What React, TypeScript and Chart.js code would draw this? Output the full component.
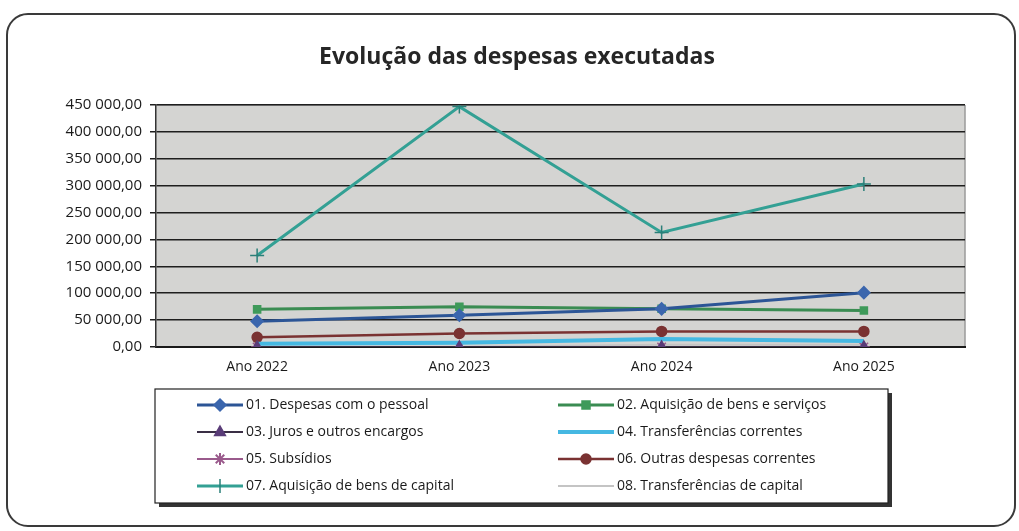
import React, { useEffect, useRef } from "react";
import { Chart, registerables } from "chart.js";

Chart.register(...registerables);

const categories = ["Ano 2022", "Ano 2023", "Ano 2024", "Ano 2025"];
const chartTitle = "Evolução das despesas executadas";
const seriesNames = [
  "01. Despesas com o pessoal",
  "02. Aquisição de bens e serviços",
  "03. Juros e outros encargos",
  "04. Transferências correntes",
  "05. Subsídios",
  "06. Outras despesas correntes",
  "07. Aquisição de bens de capital",
  "08. Transferências de capital",
];
const pessoal = [48000, 59000, 71000, 101000];
const bensServicos = [70000, 75000, 71000, 68000];
const juros = [0, 0, 0, 0];
const transfCorrentes = [6000, 8000, 15000, 11000];
const subsidios = [0, 0, 0, 0];
const outrasCorrentes = [18000, 25000, 29000, 29000];
const bensCapital = [170000, 447000, 213000, 303000];
const transfCapital = [0, 0, 4000, 4000];
const yTicks = [0, 50000, 100000, 150000, 200000, 250000, 300000, 350000, 400000, 450000];

const FONT = "'Open Sans', sans-serif";

function fmt(v: number): string {
  const s = Math.round(v).toString();
  return s.replace(/\B(?=(\d{3})+(?!\d))/g, " ") + ",00";
}

const bgPlugin = {
  id: "plotBg",
  beforeDraw(chart: any) {
    const { ctx, chartArea: a } = chart;
    ctx.save();
    ctx.fillStyle = "#d4d4d2";
    ctx.fillRect(a.left, a.top, a.right - a.left, a.bottom - a.top);
    ctx.strokeStyle = "#9a9a9a";
    ctx.lineWidth = 1.5;
    ctx.beginPath();
    ctx.moveTo(a.right, a.top);
    ctx.lineTo(a.right, a.bottom);
    ctx.moveTo(a.left, a.top);
    ctx.lineTo(a.right, a.top);
    ctx.stroke();
    ctx.fillStyle = "#262626";
    ctx.font = `bold 23px ${FONT}`;
    ctx.textAlign = "center";
    ctx.textBaseline = "middle";
    ctx.fillText(chartTitle, 517, 57);
    ctx.restore();
  },
};

function drawPt(ctx: any, style: string, r: number, x: number, y: number) {
  ctx.beginPath();
  if (style === "rectRot") {
    ctx.moveTo(x, y - r); ctx.lineTo(x + r, y); ctx.lineTo(x, y + r); ctx.lineTo(x - r, y); ctx.closePath();
    ctx.fill(); ctx.stroke();
  } else if (style === "rect") {
    ctx.rect(x - r * 0.8, y - r * 0.8, r * 1.6, r * 1.6); ctx.fill(); ctx.stroke();
  } else if (style === "triangle") {
    ctx.moveTo(x, y - r); ctx.lineTo(x + r * 0.9, y + r * 0.6); ctx.lineTo(x - r * 0.9, y + r * 0.6); ctx.closePath();
    ctx.fill(); ctx.stroke();
  } else if (style === "circle") {
    ctx.arc(x, y, r, 0, Math.PI * 2); ctx.fill(); ctx.stroke();
  } else if (style === "star") {
    for (let k = 0; k < 4; k++) {
      const a = (k * Math.PI) / 4;
      ctx.moveTo(x - Math.cos(a) * r, y - Math.sin(a) * r);
      ctx.lineTo(x + Math.cos(a) * r, y + Math.sin(a) * r);
    }
    ctx.lineWidth = 2; ctx.stroke();
  } else if (style === "cross") {
    ctx.moveTo(x, y - r); ctx.lineTo(x, y + r);
    ctx.lineWidth = 1.5; ctx.stroke();
  }
}

const legendPlugin = {
  id: "boxLegend",
  afterDraw(chart: any) {
    const { ctx } = chart;
    const bx = 155, by = 389, bw = 733, bh = 114;
    ctx.save();
    ctx.fillStyle = "#333";
    ctx.fillRect(bx + 4, by + 4, bw, bh);
    ctx.fillStyle = "#fff";
    ctx.fillRect(bx, by, bw, bh);
    ctx.strokeStyle = "#222";
    ctx.lineWidth = 1.2;
    ctx.strokeRect(bx, by, bw, bh);
    chart.data.datasets.forEach((ds: any, i: number) => {
      const col = i % 2;
      const row = Math.floor(i / 2);
      const x0 = col === 0 ? 197 : 558;
      const len = col === 0 ? 46 : 56;
      const y = 405 + row * 27;
      ctx.strokeStyle = ds.borderColor;
      ctx.lineWidth = ds.borderWidth;
      ctx.beginPath();
      ctx.moveTo(x0, y);
      ctx.lineTo(x0 + len, y);
      ctx.stroke();
      if (ds.pointRadius > 0) {
        ctx.fillStyle = ds.pointBackgroundColor;
        ctx.strokeStyle = ds.pointBorderColor;
        ctx.lineWidth = ds.pointBorderWidth;
        drawPt(ctx, ds.pointStyle, ds.pointRadius, x0 + len / 2, y);
      }
      ctx.fillStyle = "#1a1a1a";
      ctx.font = `14px ${FONT}`;
      ctx.textBaseline = "middle";
      ctx.textAlign = "left";
      ctx.fillText(ds.label, x0 + len + 3, y);
    });
    ctx.restore();
  },
};

function ds(label: string, data: number[], color: string, width: number, style: string | false, radius: number, fill: string) {
  return {
    label,
    data,
    borderColor: color,
    borderWidth: width,
    pointStyle: style || "circle",
    pointRadius: style ? radius : 0,
    pointBackgroundColor: fill,
    pointBorderColor: fill,
    pointBorderWidth: 1.5,
    tension: 0,
  };
}

export default function App() {
  const ref = useRef<HTMLCanvasElement>(null);
  useEffect(() => {
    if (!ref.current) return;
    const chart = new Chart(ref.current, {
      type: "line",
      data: {
        labels: categories,
        datasets: [
          ds(seriesNames[0], pessoal, "#2c5596", 3, "rectRot", 6, "#3b66ad"),
          ds(seriesNames[1], bensServicos, "#3a8c52", 3, "rect", 5, "#3f9a5a"),
          ds(seriesNames[2], juros, "#3a2f45", 2, "triangle", 6, "#5a3c78"),
          ds(seriesNames[3], transfCorrentes, "#45b8e2", 4, false, 0, "#45b8e2"),
          ds(seriesNames[4], subsidios, "#9a5a8c", 2, "star", 6, "#9a5a8c"),
          ds(seriesNames[5], outrasCorrentes, "#7a3232", 2.5, "circle", 5, "#7a3232"),
          ds(seriesNames[6], bensCapital, "#33a094", 3, "cross", 7, "#2a7f78"),
          ds(seriesNames[7], transfCapital, "#c4c4c4", 2, false, 0, "#c4c4c4"),
        ],
      },
      options: {
        animation: false,
        responsive: false,
        layout: { padding: { top: 105, left: 0, right: 54, bottom: 152 } },
        font: { family: FONT },
        plugins: {
          legend: { display: false },
          tooltip: { enabled: false },
          title: { display: false },
        },
        scales: {
          x: {
            offset: true,
            grid: { display: false },
            border: { display: true, color: "#1a1a1a", width: 2 },
            ticks: { color: "#1a1a1a", font: { family: FONT, size: 14 }, padding: 4 },
            afterFit: (s: any) => { s.height = 32; },
          },
          y: {
            min: 0,
            max: 450000,
            afterBuildTicks: (s: any) => { s.ticks = yTicks.map((v) => ({ value: v })); },
            grid: { color: "#1e1e1e", lineWidth: 1.5, tickLength: 6, drawTicks: true },
            border: { display: true, color: "#333", width: 1.5 },
            ticks: {
              color: "#1a1a1a",
              font: { family: FONT, size: 15 },
              padding: 8,
              callback: (v: any) => fmt(Number(v)),
            },
            afterFit: (s: any) => { s.width = 156; },
          },
        },
      } as any,
      plugins: [bgPlugin, legendPlugin],
    });
    return () => chart.destroy();
  }, []);
  return (
    <div style={{ position: "fixed", left: 0, top: 0, width: 1019, height: 531, background: "#fff" }}>
      <div
        style={{
          position: "absolute",
          left: 6,
          top: 13,
          width: 1006,
          height: 510,
          border: "2px solid #3a3a3a",
          borderRadius: 22,
        }}
      />
      <canvas ref={ref} width={1019} height={531} style={{ position: "absolute", left: 0, top: 0 }} />
    </div>
  );
}
